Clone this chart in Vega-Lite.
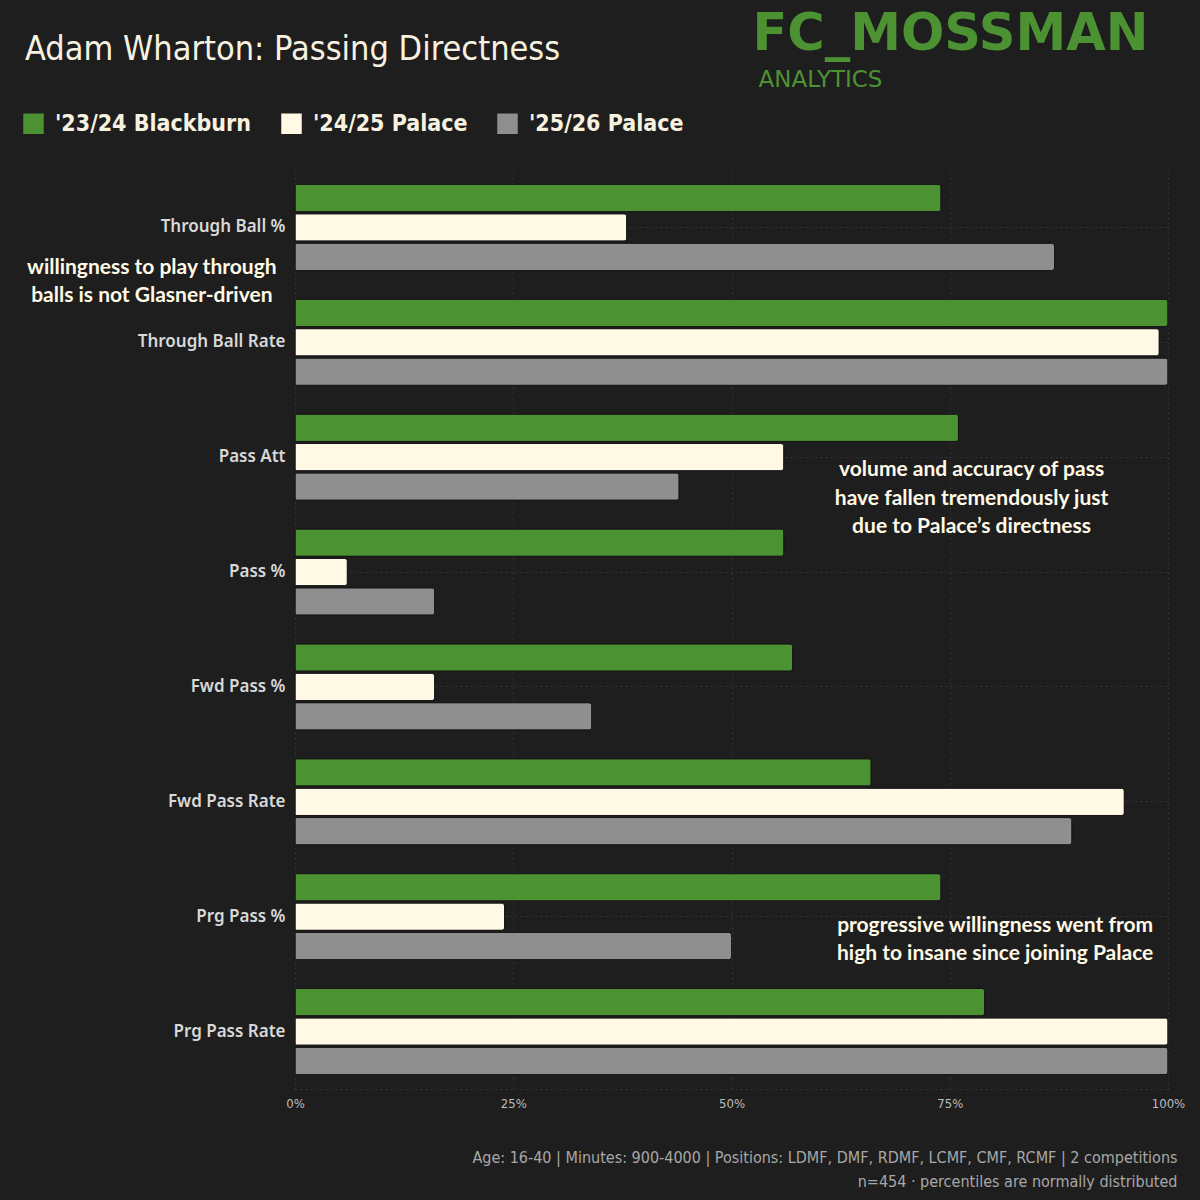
{
  "$schema": "https://vega.github.io/schema/vega-lite/v6.json",
  "width": 873,
  "height": 919,
  "autosize": {"type": "none"},
  "padding": {"left": 295, "top": 170, "right": 32, "bottom": 111},
  "background": "#1e1e1e",
  "config": {"view": {"stroke": null}},
  "title": {
    "text": "Adam Wharton: Passing Directness",
    "anchor": "start",
    "frame": "group",
    "dx": -270,
    "dy": 59,
    "font": "DejaVu Sans Condensed",
    "fontSize": 34,
    "fontWeight": "normal",
    "color": "#f7f2e0",
    "offset": 0
  },
  "resolve": {"axis": {"x": "independent", "y": "independent"}},
  "layer": [
    {
      "data": {
        "values": [
          {"metric": "Through Ball %", "season": "'23/24 Blackburn", "value": 74},
          {"metric": "Through Ball %", "season": "'24/25 Palace", "value": 38},
          {"metric": "Through Ball %", "season": "'25/26 Palace", "value": 87},
          {"metric": "Through Ball Rate", "season": "'23/24 Blackburn", "value": 100},
          {"metric": "Through Ball Rate", "season": "'24/25 Palace", "value": 99},
          {"metric": "Through Ball Rate", "season": "'25/26 Palace", "value": 100},
          {"metric": "Pass Att", "season": "'23/24 Blackburn", "value": 76},
          {"metric": "Pass Att", "season": "'24/25 Palace", "value": 56},
          {"metric": "Pass Att", "season": "'25/26 Palace", "value": 44},
          {"metric": "Pass %", "season": "'23/24 Blackburn", "value": 56},
          {"metric": "Pass %", "season": "'24/25 Palace", "value": 6},
          {"metric": "Pass %", "season": "'25/26 Palace", "value": 16},
          {"metric": "Fwd Pass %", "season": "'23/24 Blackburn", "value": 57},
          {"metric": "Fwd Pass %", "season": "'24/25 Palace", "value": 16},
          {"metric": "Fwd Pass %", "season": "'25/26 Palace", "value": 34},
          {"metric": "Fwd Pass Rate", "season": "'23/24 Blackburn", "value": 66},
          {"metric": "Fwd Pass Rate", "season": "'24/25 Palace", "value": 95},
          {"metric": "Fwd Pass Rate", "season": "'25/26 Palace", "value": 89},
          {"metric": "Prg Pass %", "season": "'23/24 Blackburn", "value": 74},
          {"metric": "Prg Pass %", "season": "'24/25 Palace", "value": 24},
          {"metric": "Prg Pass %", "season": "'25/26 Palace", "value": 50},
          {"metric": "Prg Pass Rate", "season": "'23/24 Blackburn", "value": 79},
          {"metric": "Prg Pass Rate", "season": "'24/25 Palace", "value": 100},
          {"metric": "Prg Pass Rate", "season": "'25/26 Palace", "value": 100}
        ]
      },
      "mark": {"type": "bar", "cornerRadiusEnd": 3, "stroke": "#171717", "strokeWidth": 1},
      "encoding": {
        "y": {
          "field": "metric",
          "type": "nominal",
          "scale": {
            "domain": ["Through Ball %", "Through Ball Rate", "Pass Att", "Pass %", "Fwd Pass %", "Fwd Pass Rate", "Prg Pass %", "Prg Pass Rate"],
            "paddingInner": 0.25,
            "paddingOuter": 0.125
          },
          "axis": {
            "domain": false,
            "ticks": false,
            "grid": true,
            "bandPosition": 0.5,
            "gridColor": "#343434",
            "gridDash": [2, 3],
            "labelFont": "Noto Sans",
            "labelFontWeight": 600,
            "labelFontSize": 17,
            "labelColor": "#d8d8d8",
            "labelPadding": 10,
            "title": "FC_MOSSMAN",
            "titleAngle": 0,
            "titleAlign": "left",
            "titleBaseline": "alphabetic",
            "titleX": 457,
            "titleY": -121,
            "titleFont": "DejaVu Sans",
            "titleFontSize": 51,
            "titleFontWeight": "bold",
            "titleColor": "#4c9233"
          }
        },
        "yOffset": {
          "field": "season",
          "type": "nominal",
          "scale": {"domain": ["'23/24 Blackburn", "'24/25 Palace", "'25/26 Palace"], "paddingInner": 0.07}
        },
        "x": {
          "field": "value",
          "type": "quantitative",
          "scale": {"domain": [0, 100], "nice": false},
          "axis": {
            "values": [0, 25, 50, 75, 100],
            "labelExpr": "datum.value + '%'",
            "labelFlush": false,
            "domain": true,
            "domainColor": "#343434",
            "domainDash": [2, 3],
            "ticks": false,
            "grid": true,
            "gridColor": "#343434",
            "gridDash": [2, 3],
            "labelFont": "DejaVu Sans Condensed",
            "labelFontSize": 13,
            "labelColor": "#bdbdbd",
            "labelPadding": 8,
            "title": ["Age: 16-40 | Minutes: 900-4000 | Positions: LDMF, DMF, RDMF, LCMF, CMF, RCMF | 2 competitions", "n=454 · percentiles are normally distributed"],
            "titleAnchor": "end",
            "titleAlign": "right",
            "titleBaseline": "top",
            "titleX": 882,
            "titleY": 60,
            "titleFont": "DejaVu Sans Condensed",
            "titleFontSize": 16,
            "titleFontWeight": "normal",
            "titleLineHeight": 24,
            "titleColor": "#a8a8a8"
          }
        },
        "color": {
          "field": "season",
          "type": "nominal",
          "scale": {"domain": ["'23/24 Blackburn", "'24/25 Palace", "'25/26 Palace"], "range": ["#4c9233", "#fff9e6", "#8f8f8f"]},
          "legend": {
            "orient": "none",
            "legendX": -273,
            "legendY": -58,
            "direction": "horizontal",
            "title": null,
            "symbolType": "square",
            "symbolSize": 420,
            "symbolStrokeWidth": 0,
            "symbolOpacity": 1,
            "labelFont": "DejaVu Sans Condensed",
            "labelFontSize": 23,
            "labelFontWeight": "bold",
            "labelColor": "#f7f2e0",
            "labelOffset": 10,
            "columnPadding": 28,
            "labelLimit": 400
          }
        }
      }
    },
    {
      "data": {"values": [{}]},
      "mark": {"type": "text", "text": ["willingness to play through", "balls is not Glasner-driven"], "font": "Lato", "fontSize": 21, "fontWeight": "bold", "color": "#fff9e6", "lineHeight": 28, "align": "center", "baseline": "middle", "dy": 41},
      "encoding": {
        "x": {"datum": -16.4, "type": "quantitative", "axis": null},
        "y": {"datum": "Through Ball %", "type": "nominal", "axis": null}
      }
    },
    {
      "data": {"values": [{}]},
      "mark": {"type": "text", "text": ["volume and accuracy of pass", "have fallen tremendously just", "due to Palace’s directness"], "font": "Lato", "fontSize": 21, "fontWeight": "bold", "color": "#fff9e6", "lineHeight": 28.5, "align": "center", "baseline": "middle", "dy": 13},
      "encoding": {
        "x": {
          "datum": 77.5,
          "type": "quantitative",
          "axis": {
            "orient": "top",
            "labels": false,
            "ticks": false,
            "domain": false,
            "grid": false,
            "title": "ANALYTICS",
            "titleAngle": 0,
            "titleAlign": "left",
            "titleBaseline": "alphabetic",
            "titleX": 463,
            "titleY": -84,
            "titleFont": "DejaVu Sans",
            "titleFontSize": 23,
            "titleFontWeight": "normal",
            "titleColor": "#4c9233"
          }
        },
        "y": {"datum": "Pass Att", "type": "nominal", "axis": null}
      }
    },
    {
      "data": {"values": [{}]},
      "mark": {"type": "text", "text": ["progressive willingness went from", "high to insane since joining Palace"], "font": "Lato", "fontSize": 21, "fontWeight": "bold", "color": "#fff9e6", "lineHeight": 28, "align": "center", "baseline": "middle", "dy": 9},
      "encoding": {
        "x": {"datum": 80.2, "type": "quantitative", "axis": null},
        "y": {"datum": "Prg Pass %", "type": "nominal", "axis": null}
      }
    }
  ]
}
